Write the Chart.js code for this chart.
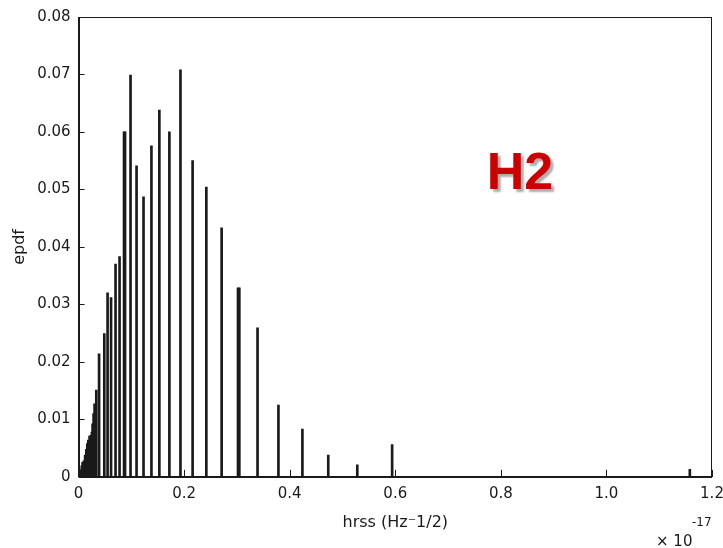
<!DOCTYPE html>
<html>
<head>
<meta charset="utf-8">
<script src="https://cdn.jsdelivr.net/npm/chart.js@4/dist/chart.umd.min.js"></script>
<style>
  html, body { margin: 0; padding: 0; background: #fff; }
</style>
</head>
<body>
<canvas id="canvas" width="723" height="548"></canvas>
<script>
// hrss values (units of 1e-17) and the matching epdf heights
let hrssVals = [0.001, 0.004, 0.006, 0.0076, 0.010, 0.0123, 0.0146, 0.0165, 0.0184, 0.0208,
  0.0233, 0.0252, 0.0265, 0.0284, 0.0303, 0.0335, 0.0388, 0.0487, 0.0549, 0.0615,
  0.070, 0.0776, 0.0861, 0.0880, 0.0984, 0.1098, 0.123, 0.138, 0.153, 0.172,
  0.193, 0.216, 0.242, 0.271, 0.302, 0.3045, 0.339, 0.3786, 0.424, 0.473,
  0.528, 0.594, 1.158];
let epdfVals = [0.0005, 0.0012, 0.0019, 0.0025, 0.0028, 0.0038, 0.0048, 0.0058, 0.0064, 0.0071,
  0.0072, 0.0078, 0.0092, 0.011, 0.0127, 0.0151, 0.0214, 0.0249, 0.032, 0.0312,
  0.037, 0.0383, 0.060, 0.060, 0.0699, 0.0541, 0.0487, 0.0576, 0.0638, 0.060,
  0.0708, 0.055, 0.0504, 0.0433, 0.0329, 0.0329, 0.0259, 0.0125, 0.0083, 0.0038,
  0.0021, 0.0056, 0.0013];
let xTicks = [0, 0.2, 0.4, 0.6, 0.8, 1, 1.2];
let yTicks = [0, 0.01, 0.02, 0.03, 0.04, 0.05, 0.06, 0.07, 0.08];

let points = hrssVals.map((v, i) => ({ x: v, y: epdfVals[i] }));

let canvas = document.getElementById('canvas');
let inkColor = '#1a1a1a';
let tickFont = { family: '"DejaVu Sans", sans-serif', size: 15 };

// frame, inward ticks and the extra texts (MATLAB style)
let matlabAxes = {
  id: 'matlabAxes',
  afterDraw(chart) {
    let ctx = chart.ctx;
    let a = chart.chartArea;
    let x = chart.scales.x;
    let y = chart.scales.y;
    ctx.save();
    ctx.strokeStyle = inkColor;
    ctx.lineWidth = 1;
    ctx.strokeRect(Math.round(a.left) + 0.5, Math.round(a.top) + 0.5,
      Math.round(a.width) - 1, Math.round(a.height));
    ctx.beginPath();
    x.ticks.forEach(t => {
      let px = Math.round(x.getPixelForValue(t.value)) + 0.5;
      ctx.moveTo(px, a.bottom);
      ctx.lineTo(px, a.bottom - 7);
    });
    y.ticks.forEach(t => {
      let py = Math.round(y.getPixelForValue(t.value)) + 0.5;
      ctx.moveTo(a.left, py);
      ctx.lineTo(a.left + 6, py);
    });
    ctx.stroke();

    // exponent label
    ctx.fillStyle = inkColor;
    ctx.textAlign = 'left';
    ctx.textBaseline = 'alphabetic';
    ctx.font = '15px "DejaVu Sans", sans-serif';
    ctx.fillText('\u00d7 10', 656, 546);
    ctx.font = '12px "DejaVu Sans", sans-serif';
    ctx.fillText('-17', 692, 526);

    // H2 tag
    ctx.font = 'bold 52px "Liberation Sans", Arial, sans-serif';
    ctx.textAlign = 'center';
    ctx.textBaseline = 'middle';
    ctx.shadowColor = 'rgba(120,120,120,0.6)';
    ctx.shadowOffsetX = 3;
    ctx.shadowOffsetY = 3;
    ctx.shadowBlur = 2;
    ctx.fillStyle = '#cc0000';
    ctx.fillText('H2', 520, 175);
    ctx.restore();
  }
};

new Chart(canvas, {
  type: 'bar',
  data: {
    datasets: [{
      label: 'epdf',
      data: points,
      backgroundColor: inkColor,
      borderWidth: 0,
      barThickness: 2
    }]
  },
  options: {
    responsive: false,
    animation: false,
    layout: { padding: { left: 1, top: 16, right: 0, bottom: 3 } },
    plugins: {
      legend: { display: false },
      tooltip: { enabled: false }
    },
    scales: {
      x: {
        type: 'linear',
        min: 0,
        max: 1.2,
        offset: false,
        afterBuildTicks: scale => { scale.ticks = xTicks.map(v => ({ value: v })); },
        afterFit: scale => { scale.paddingRight = 11; },
        grid: { display: false, drawTicks: false, offset: false },
        border: { display: true, color: inkColor },
        ticks: { color: inkColor, font: tickFont, padding: 8, maxRotation: 0, autoSkip: false },
        title: {
          display: true,
          text: 'hrss (Hz\u207b1/2)',
          color: inkColor,
          font: { family: '"DejaVu Sans", sans-serif', size: 16 },
          padding: { top: 2, bottom: 13 }
        }
      },
      y: {
        min: 0,
        max: 0.08,
        afterBuildTicks: scale => { scale.ticks = yTicks.map(v => ({ value: v })); },
        grid: { display: false, drawTicks: false },
        border: { display: true, color: inkColor },
        ticks: { color: inkColor, font: tickFont, padding: 8 },
        title: {
          display: true,
          text: 'epdf',
          color: inkColor,
          font: { family: '"DejaVu Sans", sans-serif', size: 16 },
          padding: { top: 9, bottom: 0 }
        }
      }
    }
  },
  plugins: [matlabAxes]
});
</script>
</body>
</html>
